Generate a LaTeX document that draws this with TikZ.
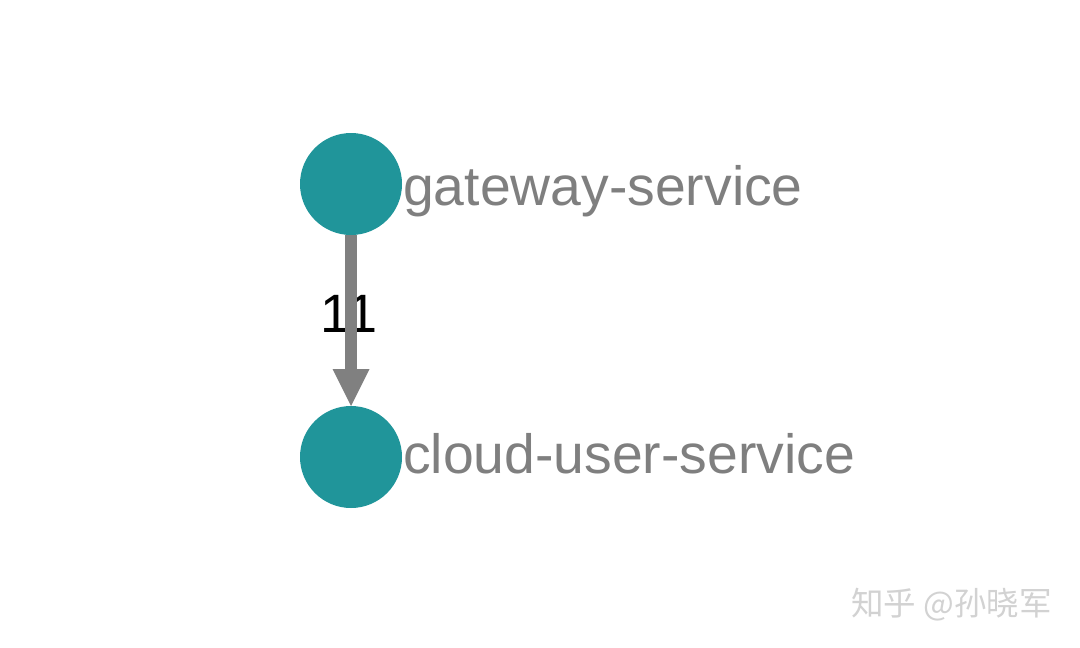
\documentclass[tikz,border=0pt]{standalone}
\usepackage{fontspec}
\setmainfont{Liberation Sans}
\newfontfamily\cjk{Noto Sans CJK SC}
\usetikzlibrary{arrows.meta}
\definecolor{nodeteal}{HTML}{20959A}
\definecolor{edgegrey}{HTML}{808080}
\definecolor{labelgrey}{HTML}{7F7F7F}
\definecolor{wmgrey}{HTML}{D2D2D2}
\tikzset{
  svc/.style={circle, fill=nodeteal, minimum size=102pt, inner sep=0pt, outer sep=0pt},
  svclabel/.style={anchor=base west, inner sep=0pt, text=labelgrey, font=\fontsize{55.3}{66}\selectfont},
  edgelabel/.style={anchor=base, inner sep=0pt, text=black, font=\fontsize{54}{66}\selectfont},
  edge/.style={draw=edgegrey, line width=12pt, -{Triangle[length=37pt, width=37pt, line width=0pt]}}
}
\begin{document}
\begin{tikzpicture}[x=1pt, y=-1pt]
\useasboundingbox (0,0) rectangle (1080,648);
\fill[white] (0,0) rectangle (1080,648);
\node[svc] (g) at (351,184) {};
\node[svc] (c) at (351,457) {};
\node[svclabel] (gl) at (403,205) {gateway-service};
\node[svclabel] (cl) at (403,473) {cloud-user-service};
\node[edgelabel] (w) at (349,332) {11};
\draw[edge] (g.south) -- (c.north);
\node[anchor=base west, inner sep=0pt, text=wmgrey, font=\cjk\fontsize{32.5}{38}\selectfont] (wm) at (851,615) {知乎 @孙晓军};
\end{tikzpicture}
\end{document}
